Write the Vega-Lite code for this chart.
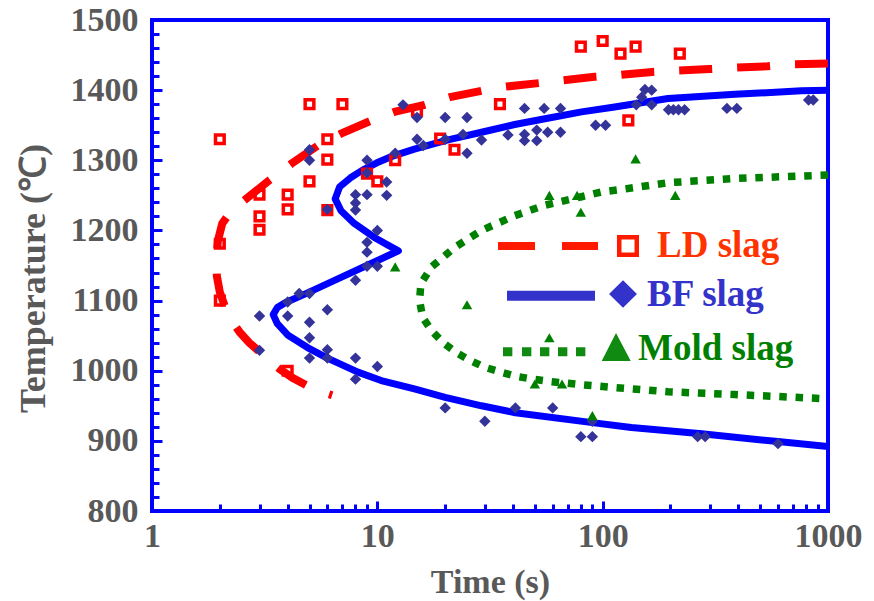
{
  "$schema": "https://vega.github.io/schema/vega-lite/v6.json",
  "width": 676,
  "height": 491,
  "autosize": "none",
  "padding": {"left": 152, "top": 20, "right": 46, "bottom": 90},
  "background": "white",
  "config": {"view": {"stroke": "#0000FF", "strokeWidth": 4}, "font": "Liberation Serif"},
  "datasets": {
    "curves": [
      {"series": "LD slag", "i": 0, "t": 1000, "T": 1438},
      {"series": "LD slag", "i": 1, "t": 698, "T": 1437},
      {"series": "LD slag", "i": 2, "t": 539, "T": 1434},
      {"series": "LD slag", "i": 3, "t": 386, "T": 1432},
      {"series": "LD slag", "i": 4, "t": 298, "T": 1430},
      {"series": "LD slag", "i": 5, "t": 215, "T": 1428},
      {"series": "LD slag", "i": 6, "t": 166, "T": 1426},
      {"series": "LD slag", "i": 7, "t": 121, "T": 1422},
      {"series": "LD slag", "i": 8, "t": 92, "T": 1419},
      {"series": "LD slag", "i": 9, "t": 67, "T": 1414},
      {"series": "LD slag", "i": 10, "t": 52, "T": 1410},
      {"series": "LD slag", "i": 11, "t": 37, "T": 1405},
      {"series": "LD slag", "i": 12, "t": 29, "T": 1399},
      {"series": "LD slag", "i": 13, "t": 21, "T": 1390},
      {"series": "LD slag", "i": 14, "t": 16.2, "T": 1379},
      {"series": "LD slag", "i": 15, "t": 11.9, "T": 1369},
      {"series": "LD slag", "i": 16, "t": 9.3, "T": 1356},
      {"series": "LD slag", "i": 17, "t": 6.9, "T": 1338},
      {"series": "LD slag", "i": 18, "t": 5.45, "T": 1321},
      {"series": "LD slag", "i": 19, "t": 4.15, "T": 1295},
      {"series": "LD slag", "i": 20, "t": 3.3, "T": 1271},
      {"series": "LD slag", "i": 21, "t": 2.64, "T": 1246},
      {"series": "LD slag", "i": 22, "t": 2.25, "T": 1228},
      {"series": "LD slag", "i": 23, "t": 2.05, "T": 1210},
      {"series": "LD slag", "i": 24, "t": 1.96, "T": 1185},
      {"series": "LD slag", "i": 25, "t": 1.93, "T": 1160},
      {"series": "LD slag", "i": 26, "t": 1.94, "T": 1135},
      {"series": "LD slag", "i": 27, "t": 2.0, "T": 1112},
      {"series": "LD slag", "i": 28, "t": 2.1, "T": 1093},
      {"series": "LD slag", "i": 29, "t": 2.25, "T": 1072},
      {"series": "LD slag", "i": 30, "t": 2.45, "T": 1055},
      {"series": "LD slag", "i": 31, "t": 2.7, "T": 1040},
      {"series": "LD slag", "i": 32, "t": 3.0, "T": 1027},
      {"series": "LD slag", "i": 33, "t": 3.3, "T": 1015},
      {"series": "LD slag", "i": 34, "t": 3.7, "T": 1002},
      {"series": "LD slag", "i": 35, "t": 4.2, "T": 990},
      {"series": "LD slag", "i": 36, "t": 4.85, "T": 979},
      {"series": "LD slag", "i": 37, "t": 5.5, "T": 971},
      {"series": "LD slag", "i": 38, "t": 6.3, "T": 965},
      {"series": "BF slag", "i": 0, "t": 1000, "T": 892},
      {"series": "BF slag", "i": 1, "t": 600, "T": 899},
      {"series": "BF slag", "i": 2, "t": 275, "T": 910},
      {"series": "BF slag", "i": 3, "t": 134, "T": 919},
      {"series": "BF slag", "i": 4, "t": 90, "T": 926},
      {"series": "BF slag", "i": 5, "t": 41, "T": 940},
      {"series": "BF slag", "i": 6, "t": 29, "T": 950},
      {"series": "BF slag", "i": 7, "t": 20, "T": 962},
      {"series": "BF slag", "i": 8, "t": 14.6, "T": 974},
      {"series": "BF slag", "i": 9, "t": 10.4, "T": 986},
      {"series": "BF slag", "i": 10, "t": 8.2, "T": 998},
      {"series": "BF slag", "i": 11, "t": 6.0, "T": 1018},
      {"series": "BF slag", "i": 12, "t": 4.9, "T": 1033},
      {"series": "BF slag", "i": 13, "t": 4.0, "T": 1051},
      {"series": "BF slag", "i": 14, "t": 3.6, "T": 1067},
      {"series": "BF slag", "i": 15, "t": 3.45, "T": 1080},
      {"series": "BF slag", "i": 16, "t": 3.6, "T": 1090},
      {"series": "BF slag", "i": 17, "t": 3.9, "T": 1097},
      {"series": "BF slag", "i": 18, "t": 4.9, "T": 1111},
      {"series": "BF slag", "i": 19, "t": 6.9, "T": 1133},
      {"series": "BF slag", "i": 20, "t": 9.7, "T": 1155},
      {"series": "BF slag", "i": 21, "t": 11.5, "T": 1166},
      {"series": "BF slag", "i": 22, "t": 12.4, "T": 1171},
      {"series": "BF slag", "i": 23, "t": 11.3, "T": 1178},
      {"series": "BF slag", "i": 24, "t": 9.7, "T": 1190},
      {"series": "BF slag", "i": 25, "t": 7.9, "T": 1210},
      {"series": "BF slag", "i": 26, "t": 6.9, "T": 1228},
      {"series": "BF slag", "i": 27, "t": 6.5, "T": 1245},
      {"series": "BF slag", "i": 28, "t": 6.8, "T": 1262},
      {"series": "BF slag", "i": 29, "t": 7.6, "T": 1275},
      {"series": "BF slag", "i": 30, "t": 8.6, "T": 1286},
      {"series": "BF slag", "i": 31, "t": 9.9, "T": 1296},
      {"series": "BF slag", "i": 32, "t": 11.7, "T": 1306},
      {"series": "BF slag", "i": 33, "t": 14.6, "T": 1316},
      {"series": "BF slag", "i": 34, "t": 20.6, "T": 1329},
      {"series": "BF slag", "i": 35, "t": 29, "T": 1340},
      {"series": "BF slag", "i": 36, "t": 40.7, "T": 1351},
      {"series": "BF slag", "i": 37, "t": 57, "T": 1360},
      {"series": "BF slag", "i": 38, "t": 80.6, "T": 1369},
      {"series": "BF slag", "i": 39, "t": 113, "T": 1376},
      {"series": "BF slag", "i": 40, "t": 195, "T": 1388},
      {"series": "BF slag", "i": 41, "t": 386, "T": 1394},
      {"series": "BF slag", "i": 42, "t": 763, "T": 1399},
      {"series": "BF slag", "i": 43, "t": 1000, "T": 1400},
      {"series": "Mold slag", "i": 0, "t": 1000, "T": 1279},
      {"series": "Mold slag", "i": 1, "t": 386, "T": 1274},
      {"series": "Mold slag", "i": 2, "t": 195, "T": 1268},
      {"series": "Mold slag", "i": 3, "t": 125, "T": 1259},
      {"series": "Mold slag", "i": 4, "t": 99, "T": 1255},
      {"series": "Mold slag", "i": 5, "t": 80.6, "T": 1248},
      {"series": "Mold slag", "i": 6, "t": 55.4, "T": 1236},
      {"series": "Mold slag", "i": 7, "t": 40.7, "T": 1221},
      {"series": "Mold slag", "i": 8, "t": 29, "T": 1200},
      {"series": "Mold slag", "i": 9, "t": 22.1, "T": 1176},
      {"series": "Mold slag", "i": 10, "t": 17.4, "T": 1148},
      {"series": "Mold slag", "i": 11, "t": 15.6, "T": 1124},
      {"series": "Mold slag", "i": 12, "t": 15.4, "T": 1100},
      {"series": "Mold slag", "i": 13, "t": 15.9, "T": 1076},
      {"series": "Mold slag", "i": 14, "t": 17.4, "T": 1057},
      {"series": "Mold slag", "i": 15, "t": 19.6, "T": 1040},
      {"series": "Mold slag", "i": 16, "t": 22.4, "T": 1026},
      {"series": "Mold slag", "i": 17, "t": 25.7, "T": 1015},
      {"series": "Mold slag", "i": 18, "t": 29.9, "T": 1005},
      {"series": "Mold slag", "i": 19, "t": 35.4, "T": 998},
      {"series": "Mold slag", "i": 20, "t": 41.4, "T": 992},
      {"series": "Mold slag", "i": 21, "t": 49, "T": 988},
      {"series": "Mold slag", "i": 22, "t": 57, "T": 985},
      {"series": "Mold slag", "i": 23, "t": 80.6, "T": 980},
      {"series": "Mold slag", "i": 24, "t": 113, "T": 976},
      {"series": "Mold slag", "i": 25, "t": 195, "T": 970},
      {"series": "Mold slag", "i": 26, "t": 386, "T": 966},
      {"series": "Mold slag", "i": 27, "t": 1000, "T": 960}
    ],
    "points": [
      {"series": "LD slag", "t": 2, "T": 1330}, {"series": "LD slag", "t": 2, "T": 1181}, {"series": "LD slag", "t": 2, "T": 1100},
      {"series": "LD slag", "t": 3, "T": 1251}, {"series": "LD slag", "t": 3, "T": 1220}, {"series": "LD slag", "t": 3, "T": 1201},
      {"series": "LD slag", "t": 4, "T": 1251}, {"series": "LD slag", "t": 4, "T": 1230}, {"series": "LD slag", "t": 4, "T": 1000},
      {"series": "LD slag", "t": 5, "T": 1380}, {"series": "LD slag", "t": 5, "T": 1270}, {"series": "LD slag", "t": 6, "T": 1330},
      {"series": "LD slag", "t": 6, "T": 1301}, {"series": "LD slag", "t": 6, "T": 1229}, {"series": "LD slag", "t": 7, "T": 1380},
      {"series": "LD slag", "t": 9, "T": 1281}, {"series": "LD slag", "t": 10, "T": 1270}, {"series": "LD slag", "t": 12, "T": 1300},
      {"series": "LD slag", "t": 15, "T": 1370}, {"series": "LD slag", "t": 19, "T": 1331}, {"series": "LD slag", "t": 22, "T": 1315},
      {"series": "LD slag", "t": 35, "T": 1380}, {"series": "LD slag", "t": 80, "T": 1462}, {"series": "LD slag", "t": 100, "T": 1470},
      {"series": "LD slag", "t": 120, "T": 1452}, {"series": "LD slag", "t": 140, "T": 1462}, {"series": "LD slag", "t": 220, "T": 1452},
      {"series": "LD slag", "t": 130, "T": 1357},
      {"series": "BF slag", "t": 5, "T": 1315}, {"series": "BF slag", "t": 5, "T": 1300}, {"series": "BF slag", "t": 9, "T": 1300},
      {"series": "BF slag", "t": 11, "T": 1269}, {"series": "BF slag", "t": 11, "T": 1250}, {"series": "BF slag", "t": 8, "T": 1251},
      {"series": "BF slag", "t": 9, "T": 1251}, {"series": "BF slag", "t": 8, "T": 1239}, {"series": "BF slag", "t": 8, "T": 1229},
      {"series": "BF slag", "t": 6, "T": 1230}, {"series": "BF slag", "t": 9, "T": 1282}, {"series": "BF slag", "t": 10, "T": 1200},
      {"series": "BF slag", "t": 9, "T": 1183}, {"series": "BF slag", "t": 9, "T": 1169}, {"series": "BF slag", "t": 9, "T": 1149},
      {"series": "BF slag", "t": 10, "T": 1149}, {"series": "BF slag", "t": 8, "T": 1129}, {"series": "BF slag", "t": 4.5, "T": 1110},
      {"series": "BF slag", "t": 5, "T": 1110}, {"series": "BF slag", "t": 4, "T": 1098}, {"series": "BF slag", "t": 4, "T": 1078},
      {"series": "BF slag", "t": 3, "T": 1078}, {"series": "BF slag", "t": 6, "T": 1087}, {"series": "BF slag", "t": 5, "T": 1069},
      {"series": "BF slag", "t": 5, "T": 1047}, {"series": "BF slag", "t": 6, "T": 1030}, {"series": "BF slag", "t": 6, "T": 1018},
      {"series": "BF slag", "t": 5, "T": 1018}, {"series": "BF slag", "t": 3, "T": 1029}, {"series": "BF slag", "t": 8, "T": 1018},
      {"series": "BF slag", "t": 10, "T": 1006}, {"series": "BF slag", "t": 8, "T": 988},
      {"series": "BF slag", "t": 13, "T": 1379}, {"series": "BF slag", "t": 15, "T": 1361}, {"series": "BF slag", "t": 20, "T": 1361},
      {"series": "BF slag", "t": 25, "T": 1361}, {"series": "BF slag", "t": 15, "T": 1330}, {"series": "BF slag", "t": 16, "T": 1321},
      {"series": "BF slag", "t": 20, "T": 1330}, {"series": "BF slag", "t": 24, "T": 1337}, {"series": "BF slag", "t": 29, "T": 1329},
      {"series": "BF slag", "t": 25, "T": 1310}, {"series": "BF slag", "t": 12, "T": 1310},
      {"series": "BF slag", "t": 45, "T": 1374}, {"series": "BF slag", "t": 55, "T": 1374}, {"series": "BF slag", "t": 65, "T": 1374},
      {"series": "BF slag", "t": 38, "T": 1336}, {"series": "BF slag", "t": 45, "T": 1337}, {"series": "BF slag", "t": 45, "T": 1328},
      {"series": "BF slag", "t": 51, "T": 1343}, {"series": "BF slag", "t": 51, "T": 1328}, {"series": "BF slag", "t": 57, "T": 1340},
      {"series": "BF slag", "t": 65, "T": 1340}, {"series": "BF slag", "t": 93, "T": 1350}, {"series": "BF slag", "t": 103, "T": 1350},
      {"series": "BF slag", "t": 141, "T": 1379}, {"series": "BF slag", "t": 149, "T": 1390}, {"series": "BF slag", "t": 154, "T": 1401},
      {"series": "BF slag", "t": 165, "T": 1400}, {"series": "BF slag", "t": 165, "T": 1379}, {"series": "BF slag", "t": 196, "T": 1372},
      {"series": "BF slag", "t": 206, "T": 1372}, {"series": "BF slag", "t": 217, "T": 1372}, {"series": "BF slag", "t": 231, "T": 1372},
      {"series": "BF slag", "t": 356, "T": 1374}, {"series": "BF slag", "t": 394, "T": 1374}, {"series": "BF slag", "t": 820, "T": 1386},
      {"series": "BF slag", "t": 860, "T": 1386},
      {"series": "BF slag", "t": 20, "T": 947}, {"series": "BF slag", "t": 30, "T": 928}, {"series": "BF slag", "t": 41, "T": 947},
      {"series": "BF slag", "t": 60, "T": 947}, {"series": "BF slag", "t": 80, "T": 906}, {"series": "BF slag", "t": 90, "T": 906},
      {"series": "BF slag", "t": 90, "T": 928}, {"series": "BF slag", "t": 264, "T": 906}, {"series": "BF slag", "t": 285, "T": 906},
      {"series": "BF slag", "t": 600, "T": 896},
      {"series": "Mold slag", "t": 58, "T": 1250}, {"series": "Mold slag", "t": 77, "T": 1250}, {"series": "Mold slag", "t": 80, "T": 1226},
      {"series": "Mold slag", "t": 12, "T": 1148}, {"series": "Mold slag", "t": 25, "T": 1094}, {"series": "Mold slag", "t": 58, "T": 1047},
      {"series": "Mold slag", "t": 50, "T": 981}, {"series": "Mold slag", "t": 66, "T": 981}, {"series": "Mold slag", "t": 90, "T": 936},
      {"series": "Mold slag", "t": 140, "T": 1302}, {"series": "Mold slag", "t": 210, "T": 1250}
    ]
  },
  "encoding": {
    "x": {
      "field": "t",
      "type": "quantitative",
      "scale": {"type": "log", "domain": [1, 1000]},
      "axis": {
        "title": "Time (s)",
        "values": [1, 2, 3, 4, 5, 6, 7, 8, 9, 10, 20, 30, 40, 50, 60, 70, 80, 90, 100, 200, 300, 400, 500, 600, 700, 800, 900, 1000],
        "labelExpr": "indexof([1, 10, 100, 1000], datum.value) >= 0 ? '' + datum.value : ''",
        "domain": false,
        "grid": false,
        "tickColor": "#0000FF",
        "tickWidth": 3,
        "tickSize": {"condition": {"test": "indexof([1, 10, 100, 1000], datum.value) >= 0", "value": -10}, "value": -7},
        "labelFont": "Liberation Serif",
        "labelFontSize": 34,
        "labelFontWeight": "bold",
        "labelColor": "#595959",
        "labelPadding": 18,
        "labelFlush": false,
        "labelOverlap": false,
        "titleFont": "Liberation Serif",
        "titleFontSize": 34,
        "titleFontWeight": "bold",
        "titleColor": "#595959",
        "titleBaseline": "alphabetic",
        "titleY": 81
      }
    },
    "y": {
      "field": "T",
      "type": "quantitative",
      "scale": {"domain": [800, 1500], "nice": false, "zero": false},
      "axis": {
        "title": "Temperature (℃)",
        "values": [800, 820, 840, 860, 880, 900, 920, 940, 960, 980, 1000, 1020, 1040, 1060, 1080, 1100, 1120, 1140, 1160, 1180, 1200, 1220, 1240, 1260, 1280, 1300, 1320, 1340, 1360, 1380, 1400, 1420, 1440, 1460, 1480, 1500],
        "labelExpr": "datum.value % 100 === 0 ? '' + datum.value : ''",
        "domain": false,
        "grid": false,
        "tickColor": "#0000FF",
        "tickWidth": 3,
        "tickSize": {"condition": {"test": "datum.value % 100 === 0", "value": -10}, "value": -7},
        "labelFont": "Liberation Serif",
        "labelFontSize": 34,
        "labelFontWeight": "bold",
        "labelColor": "#595959",
        "labelPadding": 24,
        "labelFlush": false,
        "labelOverlap": false,
        "titleFont": "Liberation Serif",
        "titleFontSize": 36,
        "titleFontWeight": "bold",
        "titleColor": "#595959",
        "titleAngle": 270,
        "titleBaseline": "alphabetic",
        "titleX": -108,
        "titleY": 258
      }
    }
  },
  "layer": [
    {
      "data": {"name": "curves"},
      "transform": [{"filter": "datum.series === 'LD slag'"}],
      "mark": {"type": "line", "strokeWidth": 8, "strokeDash": [33, 25], "clip": true},
      "encoding": {
        "order": {"field": "i", "type": "quantitative"},
        "color": {
          "field": "series",
          "type": "nominal",
          "scale": {"domain": ["LD slag", "BF slag", "Mold slag"], "range": ["#FF0000", "#0000FF", "#008000"]},
          "legend": {
            "title": null,
            "orient": "none",
            "legendX": 344,
            "legendY": 206,
            "padding": 0,
            "symbolSize": 20736,
            "symbolStrokeWidth": 0,
            "symbolOffset": 0,
            "labelOffset": 7,
            "labelFont": "Liberation Serif",
            "labelFontSize": 37,
            "labelFontWeight": "bold",
            "labelLimit": 300,
            "clipHeight": 40,
            "rowPadding": 10,
            "encode": {
              "symbols": {
                "update": {
                  "shape": {"signal": "datum.value === 'LD slag' ? 'M-0.972,-0.056H-0.458V0.056H-0.972Z M-0.083,-0.056H0.417V0.056H-0.083Z M0.68,-0.153H0.986V0.153H0.68Z M0.743,-0.09V0.09H0.924V-0.09Z' : datum.value === 'BF slag' ? 'M-0.847,-0.115H0.375V0.025H-0.847Z M0.764,-0.26L0.958,-0.07L0.764,0.12L0.57,-0.07Z' : 'M-0.903,-0.026h0.13v0.128h-0.13Z M-0.639,-0.026h0.13v0.128h-0.13Z M-0.389,-0.026h0.13v0.128h-0.13Z M-0.139,-0.026h0.13v0.128h-0.13Z M0.111,-0.026h0.13v0.128h-0.13Z M0.667,-0.222L0.871,0.167L0.468,0.167Z'"},
                  "fill": {"signal": "datum.value === 'LD slag' ? '#FF1A00' : datum.value === 'BF slag' ? '#3333CC' : '#108A10'"},
                  "stroke": {"value": "transparent"},
                  "strokeWidth": {"value": 0},
                  "opacity": {"value": 1}
                }
              },
              "labels": {
                "update": {
                  "fill": {"signal": "datum.value === 'LD slag' ? '#FF3300' : datum.value === 'BF slag' ? '#3333CC' : '#008000'"},
                  "dx": {"signal": "datum.value === 'LD slag' ? 10 : datum.value === 'Mold slag' ? -9 : 0"},
                  "dy": {"signal": "datum.value === 'BF slag' ? -4 : 0"}
                }
              }
            }
          }
        }
      }
    },
    {
      "data": {"name": "curves"},
      "transform": [{"filter": "datum.series === 'BF slag'"}],
      "mark": {"type": "line", "strokeWidth": 7, "color": "#0000FF", "strokeJoin": "round", "clip": true},
      "encoding": {"order": {"field": "i", "type": "quantitative"}}
    },
    {
      "data": {"name": "curves"},
      "transform": [{"filter": "datum.series === 'Mold slag'"}],
      "mark": {"type": "line", "strokeWidth": 7.5, "strokeDash": [7.5, 8.8], "color": "#008000", "clip": true},
      "encoding": {"order": {"field": "i", "type": "quantitative"}}
    },
    {
      "data": {"name": "points"},
      "transform": [{"filter": "datum.series === 'LD slag'"}],
      "mark": {"type": "point", "shape": "square", "filled": false, "stroke": "#FF0000", "strokeWidth": 3.5, "size": 75, "opacity": 1}
    },
    {
      "data": {"name": "points"},
      "transform": [{"filter": "datum.series === 'BF slag'"}],
      "mark": {"type": "point", "shape": "diamond", "filled": true, "color": "#333399", "size": 130, "opacity": 1}
    },
    {
      "data": {"name": "points"},
      "transform": [{"filter": "datum.series === 'Mold slag'"}],
      "mark": {"type": "point", "shape": "triangle-up", "filled": true, "color": "#008000", "size": 110, "opacity": 1}
    }
  ]
}
